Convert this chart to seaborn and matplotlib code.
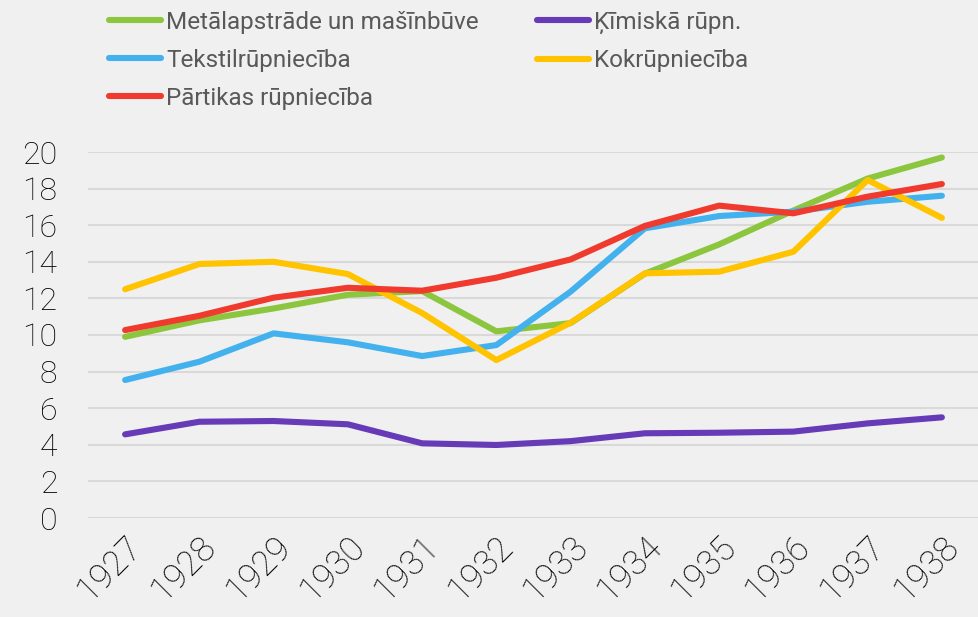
import matplotlib
matplotlib.use("Agg")
import matplotlib.pyplot as plt
import pandas as pd
import seaborn as sns

# ── Data ──────────────────────────────────────────────────────────────────────
years = [1927, 1928, 1929, 1930, 1931, 1932, 1933, 1934, 1935, 1936, 1937, 1938]

metal = [9.9, 10.8, 11.45, 12.2, 12.4, 10.2, 10.65, 13.35, 14.95, 16.8, 18.55, 19.7]
kimiska = [4.57, 5.26, 5.3, 5.12, 4.08, 3.99, 4.2, 4.63, 4.66, 4.72, 5.17, 5.5]
tekstil = [7.54, 8.54, 10.09, 9.6, 8.85, 9.45, 12.37, 15.83, 16.5, 16.74, 17.28, 17.61]
kok = [12.5, 13.88, 14.0, 13.33, 11.2, 8.63, 10.67, 13.37, 13.46, 14.55, 18.47, 16.4]
partika = [10.27, 11.05, 12.04, 12.58, 12.42, 13.13, 14.13, 15.96, 17.07, 16.65, 17.56, 18.25]

series_names = [
    "Metālapstrāde un mašīnbūve",
    "Ķīmiskā rūpn.",
    "Tekstilrūpniecība",
    "Kokrūpniecība",
    "Pārtikas rūpniecība",
]
series_values = [metal, kimiska, tekstil, kok, partika]
colors = ["#8CC63E", "#673AB7", "#44B1EF", "#FFC300", "#EF3A2D"]

df = pd.DataFrame(
    [(y, v, name) for name, vals in zip(series_names, series_values) for y, v in zip(years, vals)],
    columns=["year", "value", "series"],
)

# ── Style ─────────────────────────────────────────────────────────────────────
sns.set_style("white")
plt.rcParams["font.family"] = ["Roboto", "DejaVu Sans"]
bg = "#F0F0F0"

fig = plt.figure(figsize=(9.79, 6.17), dpi=100, facecolor=bg)
ax = fig.add_axes([88 / 979, 1 - 518 / 617, 1 - 88 / 979, (518 - 152) / 617])
ax.set_facecolor(bg)

sns.lineplot(
    data=df, x="year", y="value", hue="series",
    hue_order=series_names, palette=colors,
    linewidth=4.4, ax=ax, legend=True,
)
for line in ax.get_lines():
    line.set_solid_capstyle("round")
    line.set_solid_joinstyle("round")

ax.set_xlim(years[0] - 0.5, years[-1] + 0.5)
ax.set_ylim(0, 20)
ax.set_yticks(range(0, 21, 2))
ax.set_xticks(years)
ax.set_xticklabels([str(y) for y in years], rotation=45, ha="right",
                   rotation_mode="anchor", fontsize=25, color="#000000",
                   fontweight="light")
for lbl in ax.get_yticklabels():
    lbl.set_fontweight("light")
ax.tick_params(axis="y", labelsize=23, pad=22, length=0, labelcolor="#000000")
ax.tick_params(axis="x", length=0, pad=8)
ax.yaxis.grid(True, color="#D9D9D9", linewidth=1.5)
ax.set_axisbelow(True)
ax.set_xlabel("")
ax.set_ylabel("")
for s in ax.spines.values():
    s.set_visible(False)

# Legend: two columns, filled column-wise
handles, labels = ax.get_legend_handles_labels()
ax.get_legend().remove()
order = [0, 2, 4, 1, 3]
fig.legend(
    [handles[i] for i in order], [labels[i] for i in order],
    ncol=2, loc="upper left", bbox_to_anchor=(0.089, 1.018),
    frameon=False, fontsize=17.5, handlelength=2.15, handletextpad=0.2,
    columnspacing=2.4, labelspacing=0.62, labelcolor="#595959",
)

fig.savefig("out.png", dpi=100, facecolor=bg)
